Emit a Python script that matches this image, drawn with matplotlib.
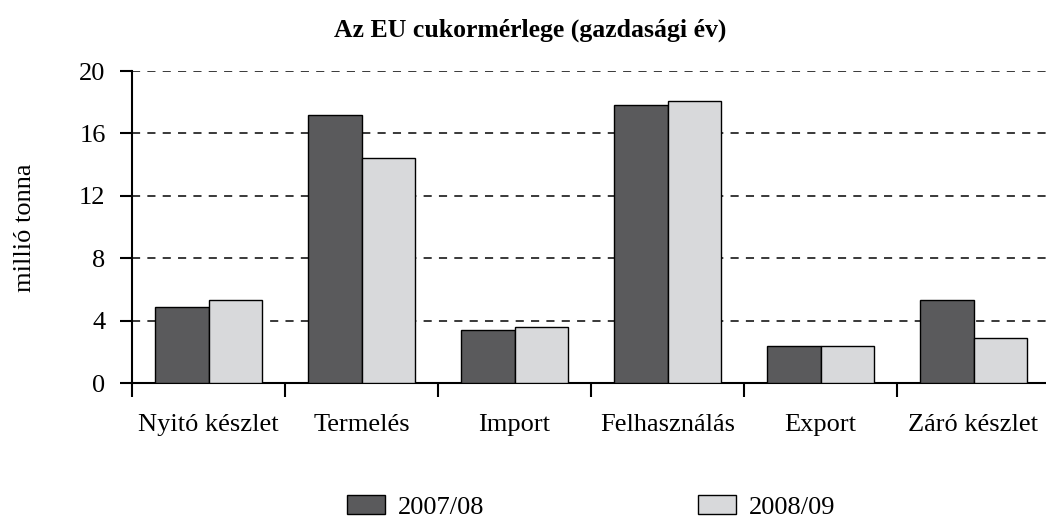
import matplotlib
matplotlib.use("Agg")
import matplotlib.pyplot as plt
import numpy as np

categories = ["Nyitó készlet", "Termelés", "Import", "Felhasználás", "Export", "Záró készlet"]
series_names = ["2007/08", "2008/09"]
values_0708 = [4.9, 17.2, 3.4, 17.8, 2.4, 5.3]
values_0809 = [5.3, 14.4, 3.6, 18.1, 2.4, 2.9]
yticks = [0, 4, 8, 12, 16, 20]

plt.rcParams['font.family'] = ['Liberation Serif', 'DejaVu Serif']
FS = 19

fig = plt.figure(figsize=(10.46, 5.2), dpi=100)
ax = fig.add_axes([132/1046, 1-383/520, 918/1046, 312/520])

x = np.arange(len(categories))
w = 0.35
c1, c2 = "#5a5a5c", "#d8d9db"
b1 = ax.bar(x - w/2, values_0708, w, color=c1, edgecolor="black", linewidth=1, label=series_names[0], zorder=3)
b2 = ax.bar(x + w/2, values_0809, w, color=c2, edgecolor="black", linewidth=1, label=series_names[1], zorder=3)

ax.set_xlim(-0.5, len(categories) - 0.5)
ax.set_ylim(0, 20)
ax.set_yticks(yticks)
ax.tick_params(axis='y', direction='out', length=9, width=1.5, labelsize=FS, pad=10)
ax.set_xticks(x)
ax.set_xticklabels(categories)
ax.tick_params(axis='x', which='major', length=0, labelsize=FS, pad=22)
ax.set_xticks(np.arange(len(categories)) - 0.5, minor=True)
ax.tick_params(axis='x', which='minor', direction='out', length=10, width=1.5)

ax.yaxis.grid(True, linestyle=(0, (4.5, 4)), color="#2a2a2a", linewidth=1.3, zorder=0)
ax.set_axisbelow(True)
for s in ["top", "right"]:
    ax.spines[s].set_visible(False)
ax.spines["left"].set_linewidth(1.5)
ax.spines["bottom"].set_linewidth(1.5)

fig.text(25/1046, 1-228/520, "millió tonna", rotation=90, ha="center", va="center", fontsize=FS)
fig.text(530/1046, 1-30/520, "Az EU cukormérlege (gazdasági év)", ha="center", va="center",
         fontsize=18.5, fontweight="bold")

fig.legend(handles=[b1, b2], labels=series_names, loc="center", bbox_to_anchor=(591/1046, 1-507/520),
           ncol=2, frameon=False, fontsize=FS, columnspacing=8.1, handlelength=1.44, handleheight=0.7,
           handletextpad=0.49, borderpad=0)

fig.savefig("out.png", dpi=100)
